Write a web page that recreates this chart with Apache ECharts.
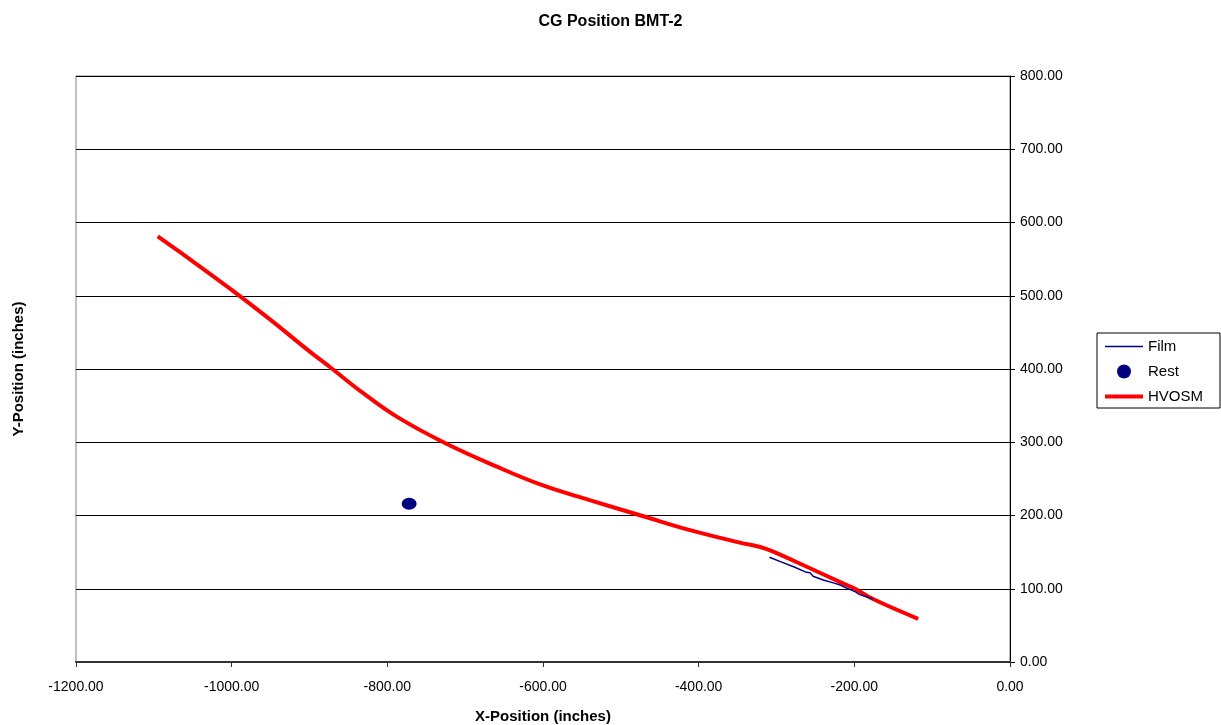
<!DOCTYPE html>
<html>
<head>
<meta charset="utf-8">
<script src="https://cdn.jsdelivr.net/npm/echarts@6/dist/echarts.min.js"></script>
<style>
html,body{margin:0;padding:0;background:#fff;}
#chart{width:1221px;height:725px;}
</style>
</head>
<body>
<div id="chart"></div>
<script>
var chartTitle = 'CG Position BMT-2';
var xAxisName = 'X-Position (inches)';
var yAxisName = 'Y-Position (inches)';
var seriesNames = ['Film', 'Rest', 'HVOSM'];

var filmX = [-309, -295, -278, -263, -257, -253, -240, -227, -218, -210, -199, -193, -176];
var filmY = [143, 137, 130, 123, 122, 117, 112, 108, 105, 101, 96, 92, 86];

var restX = [-772];
var restY = [216];

var hvosmX = [-1095, -1050, -1000, -950, -900, -873, -831, -788, -726, -660, -600, -540, -471, -411, -347, -321, -305, -261, -218, -199, -176, -118];
var hvosmY = [581, 547, 508, 467, 424, 402, 367, 335, 299, 267, 241, 221, 199, 180, 163, 157, 151, 130, 109, 100, 86, 59];

function pairs(xs, ys){ return xs.map(function(x,i){ return [x, ys[i]]; }); }

var font = 'Liberation Sans, Arial, sans-serif';
var chart = echarts.init(document.getElementById('chart'));
chart.setOption({
  backgroundColor: '#fff',
  animation: false,
  title: {
    text: chartTitle, left: 'center', top: 9,
    textStyle: {fontFamily: font, fontSize: 16, fontWeight: 'bold', color: '#000'}
  },
  grid: {left: 76, right: 211, top: 76, bottom: 63, show: true, borderColor: '#808080', borderWidth: 1,
    containLabel: false, outerBoundsMode: 'none'},
  legend: {
    orient: 'vertical', left: 1097, top: 333,
    backgroundColor: '#fff', borderColor: '#000', borderWidth: 1,
    padding: [6, 17, 4, 6], itemGap: 10, itemWidth: 38, itemHeight: 14,
    textStyle: {fontFamily: font, fontSize: 15, color: '#000'},
    data: [
      {name: seriesNames[0], itemStyle: {opacity: 0}, lineStyle: {width: 1.5, color: '#000080'}},
      {name: seriesNames[1]},
      {name: seriesNames[2], itemStyle: {opacity: 0}, lineStyle: {width: 4, color: '#ff0000'}}
    ]
  },
  xAxis: {
    type: 'value', min: -1200, max: 0, interval: 200,
    name: xAxisName, nameLocation: 'middle', nameGap: 47,
    nameTextStyle: {fontFamily: font, fontSize: 15, fontWeight: 'bold', color: '#000'},
    axisLine: {show: true, onZero: false, lineStyle: {color: '#333', width: 2}},
    axisTick: {show: true, inside: false, length: 5, lineStyle: {color: '#333'}},
    axisLabel: {fontFamily: font, fontSize: 14, color: '#000', margin: 18,
      formatter: function(v){ return v.toFixed(2); }},
    splitLine: {show: false}
  },
  yAxis: {
    type: 'value', min: 0, max: 800, interval: 100, position: 'right',
    axisLine: {show: true, lineStyle: {color: '#000', width: 1}},
    axisTick: {show: true, inside: false, length: 5, lineStyle: {color: '#000'}},
    axisLabel: {fontFamily: font, fontSize: 14, color: '#000', margin: 10,
      formatter: function(v){ return v.toFixed(2); }},
    splitLine: {show: true, lineStyle: {color: '#000', width: 1}}
  },
  graphic: [{
    type: 'text', x: 11, y: 369, rotation: Math.PI/2,
    style: {text: yAxisName, fontFamily: font, fontSize: 15, fontWeight: 'bold', fill: '#000',
      align: 'center', verticalAlign: 'top'}
  }],
  series: [
    {
      name: seriesNames[0], type: 'line', data: pairs(filmX, filmY),
      symbol: 'none', smooth: false,
      lineStyle: {color: '#000080', width: 1.5}, itemStyle: {color: '#000080'}, z: 3
    },
    {
      name: seriesNames[1], type: 'scatter', data: pairs(restX, restY),
      symbol: 'circle', symbolSize: [15, 12],
      itemStyle: {color: '#000080', opacity: 1}, z: 4
    },
    {
      name: seriesNames[2], type: 'line', data: pairs(hvosmX, hvosmY),
      symbol: 'none', smooth: 0.4,
      lineStyle: {color: '#ff0000', width: 4}, itemStyle: {color: '#ff0000'}, z: 2
    }
  ]
});
</script>
</body>
</html>
